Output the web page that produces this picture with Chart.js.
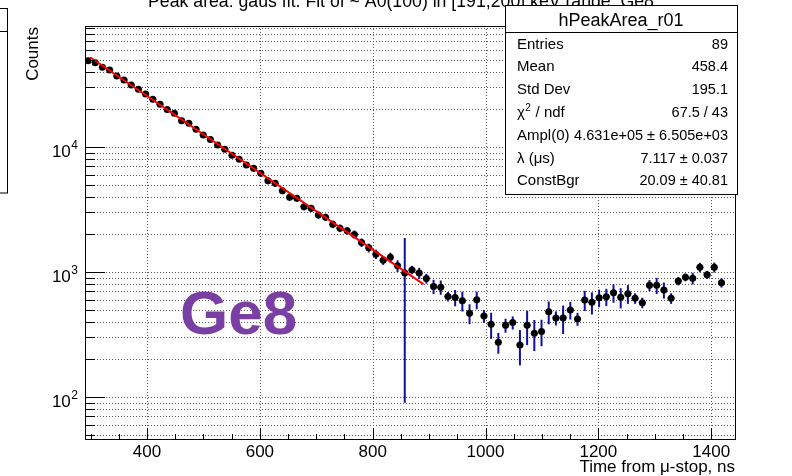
<!DOCTYPE html>
<html>
<head>
<meta charset="utf-8">
<script src="https://cdn.jsdelivr.net/npm/chart.js@4.4.1/dist/chart.umd.min.js"></script>
<style>
  html, body { margin: 0; padding: 0; background: #fff; }
  canvas { display: block; }
</style>
</head>
<body>
<canvas id="c" width="792" height="476"></canvas>
<script>
const FONT = '"Liberation Sans", Arial, Helvetica, sans-serif';

// --- Data (histogram hPeakArea_r01, Ge8) ---
const BIN_START = 289;
const BIN_WIDTH = 12.76;
const counts = [
  49000, 47300, 43400, 41300, 37000, 34400, 31300, 29000, 26600, 24100,
  22000, 20000, 18600, 16200, 15500, 13900, 12500, 11500, 10400, 9590,
  8580, 7970, 7180, 6760, 6160, 5370, 5120, 4470, 3960, 3890,
  3330, 3230, 2860, 2740, 2410, 2240, 2140, 2000, 1720, 1560,
  1390, 1240, 1310, 1120, 980, 1040, 980, 887, 766, 756,
  637, 625, 589, 467, 600, 445, 382, 274, 375, 394,
  261, 375, 323, 335, 481, 429, 429, 497, 421, 597,
  572, 623, 634, 683, 627, 671, 616, 568, 782, 782,
  718, 616, 847, 907, 890, 1090, 951, 1090, 821
];
const errors = [
  1200, 1150, 1080, 1030, 930, 860, 790, 730, 670, 610,
  560, 510, 475, 415, 395, 355, 320, 295, 270, 250,
  225, 210, 190, 400, 370, 330, 310, 280, 250, 245,
  215, 210, 190, 180, 165, 155, 150, 150, 135, 125,
  120, 100, 118, 120, 890, 80, 100, 80, 100, 99,
  55, 93, 106, 85, 96, 52, 90, 52, 48, 47,
  82, 115, 90, 80, 100, 55, 110, 80, 50, 110,
  115, 100, 100, 115, 115, 115, 60, 55, 80, 115,
  105, 60, 65, 65, 95, 95, 70, 100, 70
];
// fit curve end points (exponential -> straight on log axis)
const fitX = [299, 890];
const fitY = [52200, 800];

const xTickLabels = [400, 600, 800, 1000, 1200, 1400];
const yDecades = [2, 3, 4];

const statLabels = ['Entries', 'Mean', 'Std Dev', 'χ2 / ndf', 'Ampl(0)', 'λ (μs)', 'ConstBgr'];
const statValues = ['89', '458.4', '195.1', '67.5 / 43', '4.631e+05 ± 6.505e+03', '7.117 ± 0.037', '20.09 ± 40.81'];

const TITLE = 'Peak area: gaus fit. Fit of ~ A0(100) in [191,200] keV range: Ge8';

const binCenters = counts.map((_, i) => BIN_START + BIN_WIDTH * (i + 0.5));
const points = counts.map((c, i) => ({ x: binCenters[i], y: c }));
const fitLine = fitX.map((x, i) => ({ x, y: fitY[i] }));

// all log ticks 1..9 x 10^d inside the y range
const logTicks = [];
for (let d = 1; d <= 4; d++) {
  for (let m = 1; m <= 9; m++) logTicks.push({ v: m * Math.pow(10, d), major: m === 1 });
}

function line(ctx, x1, y1, x2, y2) {
  ctx.beginPath();
  ctx.moveTo(x1, y1);
  ctx.lineTo(x2, y2);
  ctx.stroke();
}

const rootStyle = {
  id: 'rootStyle',
  beforeDraw(chart) {
    const { ctx, chartArea: a, scales: { x, y } } = chart;
    ctx.save();
    ctx.fillStyle = '#fff';
    ctx.fillRect(0, 0, chart.width, chart.height);
    // dotted grid
    ctx.strokeStyle = '#555';
    ctx.lineWidth = 1;
    ctx.setLineDash([1, 2]);
    xTickLabels.forEach(v => {
      const px = Math.round(x.getPixelForValue(v)) + 0.5;
      line(ctx, px, a.top, px, a.bottom);
    });
    logTicks.forEach(t => {
      if (t.v < y.min || t.v > y.max) return;
      const py = Math.round(y.getPixelForValue(t.v)) + 0.5;
      line(ctx, a.left, py, a.right, py);
    });
    ctx.restore();
  },
  beforeDatasetsDraw(chart) {
    const { ctx, chartArea: a, scales: { x, y } } = chart;
    ctx.save();
    ctx.beginPath();
    ctx.rect(a.left, a.top, a.width, a.height);
    ctx.clip();
    ctx.strokeStyle = '#10109a';
    counts.forEach((c, i) => {
      const px = x.getPixelForValue(binCenters[i]);
      const py = y.getPixelForValue(c);
      const top = y.getPixelForValue(c + errors[i]);
      const lo = Math.max(c - errors[i], y.min * 0.5);
      const bot = y.getPixelForValue(lo);
      ctx.lineWidth = 2;
      line(ctx, px, top, px, bot);
      ctx.lineWidth = 1;
      line(ctx, x.getPixelForValue(binCenters[i] - BIN_WIDTH / 2), py,
        x.getPixelForValue(binCenters[i] + BIN_WIDTH / 2), py);
    });
    ctx.restore();
  },
  afterDatasetsDraw(chart) {
    const { ctx, chartArea: a, scales: { x, y } } = chart;
    ctx.save();
    ctx.strokeStyle = '#000';
    ctx.lineWidth = 1;
    ctx.setLineDash([]);

    // ticks
    logTicks.forEach(t => {
      if (t.v < y.min || t.v > y.max) return;
      const py = Math.round(y.getPixelForValue(t.v)) + 0.5;
      line(ctx, a.left, py, a.left + (t.major ? 20 : 10), py);
    });
    for (let v = 300; v <= 1400; v += 50) {
      const px = Math.round(x.getPixelForValue(v)) + 0.5;
      line(ctx, px, a.bottom, px, a.bottom - (v % 200 === 0 ? 12 : 6));
    }
    // frame
    ctx.strokeRect(a.left + 0.5, a.top + 0.5, a.width - 1, a.height - 1);

    // x tick labels
    ctx.fillStyle = '#000';
    ctx.font = '17px ' + FONT;
    ctx.textAlign = 'center';
    ctx.textBaseline = 'alphabetic';
    xTickLabels.forEach(v => ctx.fillText(String(v), x.getPixelForValue(v), 457));

    // y tick labels 10^d
    yDecades.forEach(d => {
      const py = y.getPixelForValue(Math.pow(10, d));
      ctx.font = '12px ' + FONT;
      ctx.textAlign = 'right';
      ctx.fillText(String(d), 78, py + 2);
      const w = ctx.measureText(String(d)).width;
      ctx.font = '17px ' + FONT;
      ctx.fillText('10', 78 - w - 0.5, py + 9.5);
    });

    // axis titles
    ctx.font = '17px ' + FONT;
    ctx.textAlign = 'right';
    ctx.fillText('Time from μ-stop, ns', 735, 472);
    ctx.save();
    ctx.translate(38, 27);
    ctx.rotate(-Math.PI / 2);
    ctx.textAlign = 'right';
    ctx.fillText('Counts', 0, 0);
    ctx.restore();

    // Ge8 label
    ctx.fillStyle = '#7a3fa3';
    ctx.font = 'bold 62px ' + FONT;
    ctx.textAlign = 'left';
    ctx.fillText('Ge8', 180, 334);

    // title (clipped at the top of the canvas)
    ctx.fillStyle = '#000';
    ctx.font = '18px ' + FONT;
    const tw = ctx.measureText(TITLE).width;
    const fs = 18 * 507 / tw;
    ctx.font = fs.toFixed(1) + 'px ' + FONT;
    ctx.textAlign = 'center';
    ctx.fillText(TITLE, 401, 7);

    // clipped box at the far left
    ctx.fillStyle = '#fff';
    ctx.fillRect(-5, 8, 12, 185);
    ctx.strokeRect(-5, 8.5, 12.5, 184.5);
    line(ctx, 0, 31.5, 7.5, 31.5);

    // stats box
    const bx = 505, by = 5, bw = 232, bh = 189;
    ctx.fillStyle = '#fff';
    ctx.fillRect(bx, by, bw, bh);
    ctx.strokeRect(bx + 0.5, by + 0.5, bw, bh);
    line(ctx, bx, 32.5, bx + bw, 32.5);
    ctx.fillStyle = '#000';
    ctx.font = '18px ' + FONT;
    ctx.textAlign = 'center';
    ctx.fillText('hPeakArea_r01', bx + bw / 2, 26);
    const rowFont = '15px ' + FONT;
    const valFont = '14.5px ' + FONT;
    statLabels.forEach((lab, i) => {
      const yy = 48.5 + i * 22.8;
      ctx.font = rowFont;
      ctx.textAlign = 'left';
      if (i === 3) {
        ctx.fillText('χ', 517, yy);
        const cw = ctx.measureText('χ').width;
        ctx.font = '10px ' + FONT;
        ctx.fillText('2', 517 + cw + 0.5, yy - 6);
        const sw = ctx.measureText('2').width;
        ctx.font = rowFont;
        ctx.fillText(' / ndf', 517 + cw + sw + 1, yy);
      } else {
        ctx.fillText(lab, 517, yy);
      }
      ctx.font = valFont;
      ctx.textAlign = 'right';
      ctx.fillText(statValues[i], 728, yy);
    });
    ctx.restore();
  }
};

new Chart(document.getElementById('c'), {
  type: 'scatter',
  data: {
    datasets: [
      {
        type: 'line',
        label: 'fit',
        data: fitLine,
        borderColor: '#ff0000',
        borderWidth: 2,
        pointRadius: 0,
        fill: false,
        tension: 0
      },
      {
        label: 'hPeakArea_r01',
        data: points,
        backgroundColor: '#000',
        borderWidth: 0,
        pointRadius: 3.5,
        pointHoverRadius: 3.5
      }
    ]
  },
  options: {
    responsive: false,
    animation: false,
    devicePixelRatio: 1,
    layout: { padding: { left: 85, right: 56, top: 26, bottom: 36 } },
    plugins: { legend: { display: false }, tooltip: { enabled: false } },
    scales: {
      x: { type: 'linear', min: 290, max: 1444, display: false },
      y: { type: 'logarithmic', min: 45.3, max: 92900, display: false }
    }
  },
  plugins: [rootStyle]
});
</script>
</body>
</html>
